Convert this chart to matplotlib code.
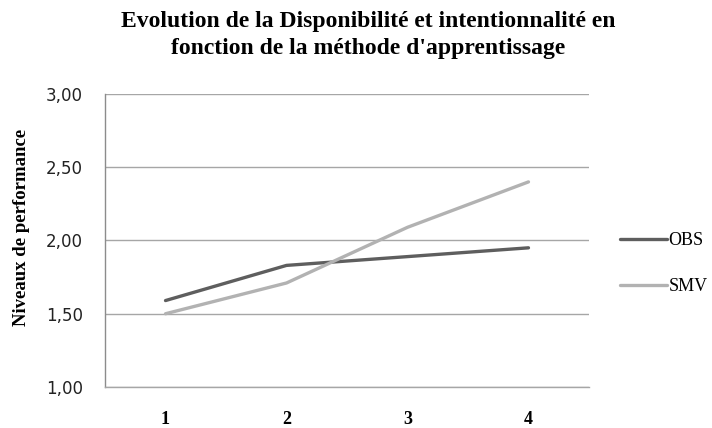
import matplotlib
matplotlib.use("Agg")
import matplotlib.pyplot as plt

# data
methods = ["1", "2", "3", "4"]
obs = [1.59, 1.83, 1.89, 1.95]
smv = [1.50, 1.71, 2.09, 2.40]
y_ticks = [1.0, 1.5, 2.0, 2.5, 3.0]

serif = "Liberation Serif"

fig = plt.figure(figsize=(7.12, 4.28), dpi=100)
ax = fig.add_axes([0.1475, 0.0958, 0.6797, 0.6846])

x = range(1, len(methods) + 1)
ax.plot(x, obs, color="#5e5e5e", lw=2.4, solid_capstyle="round", label="OBS")
ax.plot(x, smv, color="#b2b2b2", lw=2.4, solid_capstyle="round", label="SMV")

ax.set_xlim(0.5, 4.5)
ax.set_ylim(1.0, 3.0)
ax.set_yticks(y_ticks)
ax.set_yticklabels(["{:.2f}".format(v).replace(".", ",") for v in y_ticks],
                   fontsize=12, family="DejaVu Sans", color="#222222")
ax.set_xticks(list(x))
ax.set_xticklabels(methods, fontsize=13, family=serif, fontweight="bold")
ax.tick_params(axis="both", length=0)
ax.tick_params(axis="x", pad=17)
ax.tick_params(axis="y", pad=16)

ax.grid(axis="y", color="#a6a6a6", lw=1)
ax.set_axisbelow(True)
for side in ["top", "right"]:
    ax.spines[side].set_visible(False)
ax.spines["bottom"].set_color("#a6a6a6")
ax.spines["bottom"].set_linewidth(1)
ax.spines["left"].set_color("#8c8c8c")
ax.spines["left"].set_linewidth(1)

ax.set_ylabel("Niveaux de performance", family=serif, fontweight="bold",
              fontsize=13.5)
ax.yaxis.set_label_coords(-0.155, 0.545)

fig.suptitle("Evolution de la Disponibilité et intentionnalité en\n"
             "fonction de la méthode d'apprentissage",
             family=serif, fontweight="bold", fontsize=17, x=0.517, y=0.975,
             linespacing=1.4)

ax.legend(loc="center left", bbox_to_anchor=(1.03, 0.42), frameon=False,
          prop={"family": serif, "size": 13}, handlelength=2.6,
          handletextpad=0.1, labelspacing=1.6)

fig.savefig("out.png", dpi=100)
